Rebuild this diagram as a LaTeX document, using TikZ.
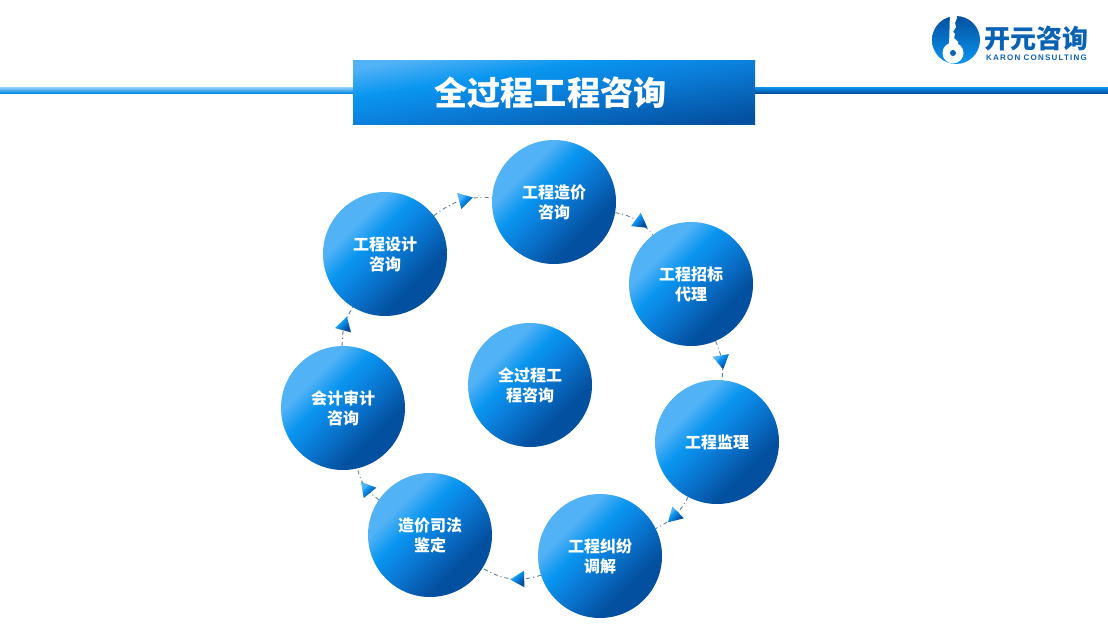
\documentclass[tikz,border=0pt]{standalone}
\usepackage{fontspec}
\setmainfont{Noto Sans CJK SC}
\newfontfamily\latinfont[LetterSpace=15]{Liberation Sans}
\usetikzlibrary{shapes.geometric}

\definecolor{lightblue}{HTML}{52B2F6}
\definecolor{midblue}{HTML}{0996F0}
\definecolor{coreblue}{HTML}{0A80DC}
\definecolor{darkblue}{HTML}{0450A0}
\definecolor{linkgray}{HTML}{5F7F9F}
\definecolor{logoblue}{HTML}{0A62B4}

\pgfdeclareverticalshading{discfill}{100bp}{color(0bp)=(darkblue); color(33bp)=(darkblue);
    color(50bp)=(coreblue); color(58bp)=(midblue); color(67bp)=(lightblue); color(100bp)=(lightblue)}
\pgfdeclareverticalshading{barfill}{100bp}{color(0bp)=(darkblue); color(25bp)=(darkblue);
    color(50bp)=(coreblue); color(62bp)=(midblue); color(75bp)=(lightblue); color(100bp)=(lightblue)}

\tikzset{
    bluefill/.style={shade, shading=discfill, shading angle=45},
    topic/.style={circle, bluefill, minimum size=124pt, inner sep=0pt, align=center, text=white,
        font=\fontsize{16}{20}\selectfont\bfseries},
    link/.style={linkgray, line width=0.9pt, dash pattern=on 4pt off 3pt on 1pt off 3pt},
    tip/.style={regular polygon, regular polygon sides=3, shape border rotate=-90, minimum size=19pt,
        inner sep=0pt, bluefill, sloped, allow upside down, pos=#1},
}

\begin{document}
\begin{tikzpicture}[x=1pt, y=-1pt]
        \useasboundingbox (0,0) rectangle (1108,624);

        % header
        \shade[top color=lightblue!60, bottom color=midblue!85!darkblue] (0,87) rectangle (353,93);
        \shade[top color=midblue, bottom color=darkblue] (755,87) rectangle (1108,93);
        \node[shade, shading=barfill, shading angle=9, minimum width=402pt, minimum height=64.5pt,
            inner sep=0pt, text=white, font=\fontsize{33.2}{33}\selectfont\bfseries]
            (title) at (554,92.5) {全过程工程咨询\rule{7pt}{0pt}};

        % logo
        \shade[top color=darkblue, bottom color=midblue] (956,40) circle (24pt);
        \fill[white] (950,12) -- (956,12) -- (957,18) -- (955,23) -- (956,27) -- (953,32) -- (955,34)
            -- (954,38) -- (958,42) -- (958,47) -- (949,47) -- cycle;
        \fill[white] (953,53) circle (10.5pt);
        \fill[logoblue] (953,53) circle (3pt);
        \node[text=logoblue, inner sep=0pt, font=\fontsize{26}{26}\selectfont\bfseries] (logo) at (1036.5,39) {开元咨询};
        \node[text=logoblue, inner sep=0pt, font=\latinfont\fontsize{8}{8}\selectfont\bfseries] (logo text) at (1036.5,57.5) {KARON CONSULTING};

        % circles
        \node[topic] (cost)    at (554,202) {工程造价\\咨询};
        \node[topic] (bid)     at (691,284) {工程招标\\代理};
        \node[topic] (super)   at (717,442) {工程监理};
        \node[topic] (dispute) at (600,556) {工程纠纷\\调解};
        \node[topic] (court)   at (430,535) {造价司法\\鉴定};
        \node[topic] (audit)   at (343,408) {会计审计\\咨询};
        \node[topic] (design)  at (385,254) {工程设计\\咨询};
        \node[topic] (center)  at (530,385) {全过程工\\程咨询};

        % connectors
        \draw[link] (cost)    to[bend left=21] node[tip=0.6] (tip 1) {} (bid);
        \draw[link] (bid)     to[bend left=14] node[tip=0.5] (tip 2) {} (super);
        \draw[link] (super)   to[bend left=18] node[tip=0.5] (tip 3) {} (dispute);
        \draw[link] (dispute) to[bend left=25] node[tip=0.35] (tip 4) {} (court);
        \draw[link] (court)   to[bend left=21] node[tip=0.4] (tip 5) {} (audit);
        \draw[link] (audit)   to[bend left=16] node[tip=0.5] (tip 6) {} (design);
        \draw[link] (design)  to[bend left=21] node[tip=0.55] (tip 7) {} (cost);
    \end{tikzpicture}
\end{document}
